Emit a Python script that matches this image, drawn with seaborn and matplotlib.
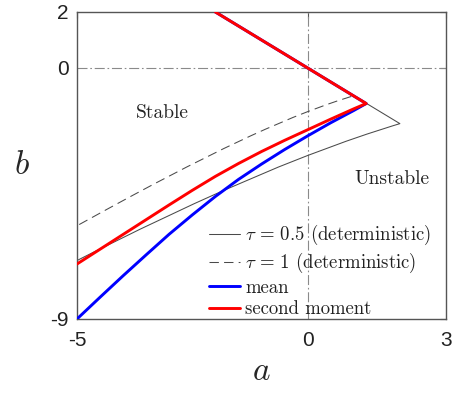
import matplotlib
matplotlib.use("Agg")
import matplotlib.pyplot as plt
import seaborn as sns
import pandas as pd

# ---- data ----
# deterministic, tau = 0.5 (upper branch b=-a, then lower curve)
tau05_a = [-3.0, 2.0, 1.83, 1.284, 0.83, 0.0, -0.634, -1.83, -2.456, -3.634, -4.642, -5.24]
tau05_b = [3.0, -2.0, -2.086, -2.376, -2.634, -3.142, -3.556, -4.4, -4.866, -5.784, -6.606, -7.106]
# deterministic, tau = 1
tau1_a = [-3.0, 1.0, 0.915, 0.642, 0.415, 0.0, -0.317, -0.915, -1.228, -1.817, -2.620, -3.347, -3.795, -4.322, -4.950, -5.090]
tau1_b = [3.0, -1.0, -1.043, -1.188, -1.317, -1.571, -1.778, -2.200, -2.433, -2.892, -3.553, -4.177, -4.572, -5.044, -5.614, -5.743]
# mean
mean_a = [-2.0, 1.27, 1.0, 0.5, 0.0, -0.5, -1.0, -1.5, -2.0, -2.5, -3.0, -3.5, -4.0, -4.5, -5.0]
mean_b = [2.0, -1.28, -1.53, -1.97, -2.44, -2.93, -3.45, -4.00, -4.61, -5.27, -5.96, -6.70, -7.45, -8.22, -9.0]
# second moment
sm_a = [-2.0, 1.27, 1.0, 0.5, 0.0, -0.5, -1.0, -1.5, -2.0, -2.5, -3.0, -3.5, -4.0, -4.5, -5.0]
sm_b = [2.0, -1.28, -1.47, -1.84, -2.22, -2.60, -3.00, -3.43, -3.89, -4.39, -4.91, -5.44, -5.97, -6.50, -7.03]

xticks = [-5, 0, 3]
xticklabels = ["-5", "0", "3"]
yticks = [-9, 0, 2]
yticklabels = ["-9", "0", "2"]

labels = [r"$\tau\,=\,0.5$ (deterministic)", r"$\tau\,=\,1$ (deterministic)", "mean", "second moment"]

sns.set_style("white")
plt.rcParams["mathtext.fontset"] = "cm"
plt.rcParams["font.family"] = ["Liberation Sans", "DejaVu Sans"]

fig = plt.figure(figsize=(4.54, 3.93), dpi=100)
ax = fig.add_axes([0.1696, 0.1883, 0.8128, 0.7812])

# reference lines
ax.axvline(0, color="#8a8a8a", lw=0.8, ls=(0, (9, 2.5, 1.5, 2.5)), zorder=1)
ax.axhline(0, color="#8a8a8a", lw=0.8, ls=(0, (9, 2.5, 1.5, 2.5)), zorder=1)

d1 = pd.DataFrame({"a": tau05_a, "b": tau05_b})
d2 = pd.DataFrame({"a": tau1_a, "b": tau1_b})
d3 = pd.DataFrame({"a": mean_a, "b": mean_b})
d4 = pd.DataFrame({"a": sm_a, "b": sm_b})

sns.lineplot(data=d1, x="a", y="b", sort=False, estimator=None, ax=ax,
             color="#4a4a4a", lw=0.75, label=labels[0], zorder=2)
sns.lineplot(data=d2, x="a", y="b", sort=False, estimator=None, ax=ax,
             color="#4a4a4a", lw=0.75, label=labels[1], zorder=2)
ax.lines[-1].set_dashes((9, 5))
sns.lineplot(data=d3, x="a", y="b", sort=False, estimator=None, ax=ax,
             color="#0000ff", lw=2.1, label=labels[2], zorder=3)
sns.lineplot(data=d4, x="a", y="b", sort=False, estimator=None, ax=ax,
             color="#ff0000", lw=2.1, label=labels[3], zorder=4)

ax.set_xlim(-5, 3)
ax.set_ylim(-9, 2)
ax.set_xticks(xticks)
ax.set_xticklabels(xticklabels)
ax.set_yticks(yticks)
ax.set_yticklabels(yticklabels)
ax.tick_params(direction="in", length=4, width=0.8, colors="#555555",
               labelcolor="#222222", labelsize=15, top=True, right=True)
ax.tick_params(axis="x", pad=9)
ax.tick_params(axis="y", pad=6)
for s in ax.spines.values():
    s.set_color("#555555")
    s.set_linewidth(1.0)

ax.set_xlabel(r"$a$", fontsize=24, labelpad=4)
ax.set_ylabel(r"$b$", fontsize=24, rotation=0, labelpad=20, va="center")

ax.text(-3.16, -1.62, "Stable", family="cmr10", fontsize=14, color="#222222",
        ha="center", va="center")
ax.text(1.82, -3.97, "Unstable", family="cmr10", fontsize=14, color="#222222",
        ha="center", va="center")

leg = ax.legend(loc="lower right", bbox_to_anchor=(0.99, -0.035), frameon=False,
                prop={"family": "cmr10", "size": 13.5}, handlelength=1.65,
                handletextpad=0.3, labelspacing=0.2, borderaxespad=0.2)
for t in leg.get_texts():
    t.set_color("#222222")

fig.savefig("out.png", dpi=100)
